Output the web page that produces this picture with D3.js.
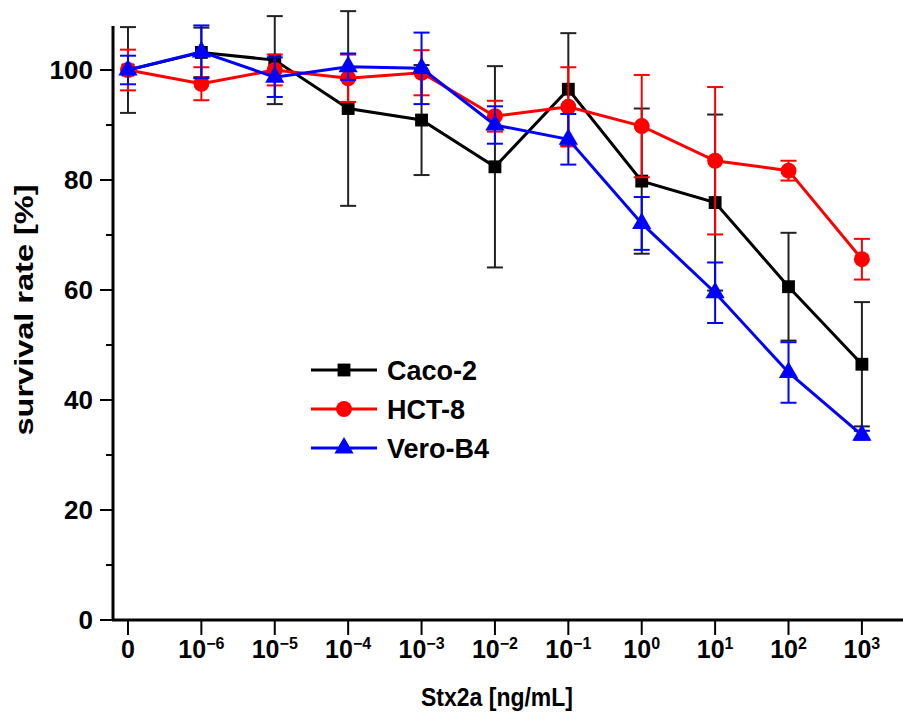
<!DOCTYPE html>
<html>
<head>
<meta charset="utf-8">
<script src="https://cdn.jsdelivr.net/npm/d3@7"></script>
<style>
  body { margin: 0; background: #fff; }
  svg text { font-family: "Liberation Sans", Arial, sans-serif; font-weight: bold; fill: #000; }
</style>
</head>
<body>
<div id="chart"></div>
<script>
// doses, shown as 0, 10^-6 ... 10^3
const doseLabels = ["0", "-6", "-5", "-4", "-3", "-2", "-1", "0", "1", "2", "3"];

const cacoMean = [100, 103.2, 101.8, 93.0, 90.9, 82.4, 96.5, 79.8, 75.9, 60.6, 46.5];
const cacoErr  = [7.8, 4.5, 8.0, 17.7, 10.0, 18.3, 10.2, 13.2, 16.0, 9.8, 11.3];

const hctMean = [100, 97.5, 100.0, 98.5, 99.5, 91.6, 93.3, 89.8, 83.5, 81.7, 65.6];
const hctErr  = [3.7, 3.0, 2.8, 4.3, 4.1, 2.8, 7.2, 9.3, 13.4, 1.8, 3.7];

const veroMean = [100, 103.3, 98.7, 100.6, 100.3, 90.0, 87.4, 72.1, 59.5, 45.0, 33.6];
const veroErr  = [2.6, 4.8, 3.6, 2.4, 6.5, 3.4, 4.6, 4.8, 5.5, 5.5, 0.8];

const yTicks = [0, 20, 40, 60, 80, 100];
const yMinorTicks = [10, 30, 50, 70, 90];

const series = [
  { name: "Caco-2", mean: cacoMean, err: cacoErr, color: "#000", errColor: "#222", symbol: d3.symbolSquare, size: 165 },
  { name: "HCT-8", mean: hctMean, err: hctErr, color: "#ff0000", errColor: "#ff0000", symbol: d3.symbolCircle, size: 200 },
  { name: "Vero-B4", mean: veroMean, err: veroErr, color: "#0000ff", errColor: "#0000ff", symbol: d3.symbolTriangle, size: 160 }
];

const W = 903, H = 713;
const svg = d3.select("#chart").append("svg")
  .attr("width", W).attr("height", H);

const x = d3.scaleLinear().domain([-0.204, 10.56]).range([113, 903]);
const y = d3.scaleLinear().domain([0, 108]).range([620, 26]);

// y axis
const yAxis = svg.append("g").attr("transform", "translate(113,0)");
yAxis.append("line").attr("x1", 0).attr("x2", 0).attr("y1", y(108)).attr("y2", y(0))
  .attr("stroke", "#000").attr("stroke-width", 3);
yAxis.selectAll(".ymaj").data(yTicks).enter().append("line")
  .attr("x1", -13).attr("x2", 0).attr("y1", d => y(d)).attr("y2", d => y(d))
  .attr("stroke", "#000").attr("stroke-width", 2);
yAxis.selectAll(".ymin").data(yMinorTicks).enter().append("line")
  .attr("x1", -7).attr("x2", 0).attr("y1", d => y(d)).attr("y2", d => y(d))
  .attr("stroke", "#000").attr("stroke-width", 2);
yAxis.selectAll(".ylab").data(yTicks).enter().append("text")
  .attr("x", -20).attr("y", d => y(d)).attr("dy", "0.36em")
  .attr("text-anchor", "end").style("font-size", "26px")
  .text(d => d);

// x axis
const xAxis = svg.append("g").attr("transform", "translate(0,620)");
xAxis.append("line").attr("x1", 112).attr("x2", 903).attr("y1", 0).attr("y2", 0)
  .attr("stroke", "#000").attr("stroke-width", 3);
xAxis.selectAll(".xt").data(doseLabels).enter().append("line")
  .attr("x1", (d, i) => x(i)).attr("x2", (d, i) => x(i))
  .attr("y1", 0).attr("y2", 15)
  .attr("stroke", "#000").attr("stroke-width", 2);
const xl = xAxis.selectAll(".xl").data(doseLabels).enter().append("text")
  .attr("y", 38).attr("text-anchor", "middle").style("font-size", "25px")
  .attr("x", (d, i) => x(i));
xl.each(function(d, i) {
  const t = d3.select(this);
  if (i === 0) { t.text("0"); return; }
  t.append("tspan").text("10");
  t.append("tspan").attr("dy", "-9").style("font-size", "16px")
    .text(d.replace("-", "\u2212"));
});

// axis titles
svg.append("text").attr("transform", "translate(497,706) scale(0.92,1)")
  .attr("text-anchor", "middle").style("font-size", "25px").text("Stx2a [ng/mL]");
svg.append("text").attr("transform", "translate(33,310) rotate(-90) scale(1.3,1)")
  .attr("text-anchor", "middle").style("font-size", "25px").text("survival rate [%]");

// series
const line = d3.line().x((d, i) => x(i)).y(d => y(d));

series.forEach(s => {
  const g = svg.append("g");
  const idx = d3.range(s.mean.length);
  // error bars
  const eb = g.selectAll(".eb").data(idx).enter().append("g")
    .attr("stroke", s.errColor).attr("stroke-width", 2);
  eb.append("line")
    .attr("x1", i => x(i)).attr("x2", i => x(i))
    .attr("y1", i => y(s.mean[i] + s.err[i])).attr("y2", i => y(s.mean[i] - s.err[i]));
  eb.append("line")
    .attr("x1", i => x(i) - 8).attr("x2", i => x(i) + 8)
    .attr("y1", i => y(s.mean[i] + s.err[i])).attr("y2", i => y(s.mean[i] + s.err[i]));
  eb.append("line")
    .attr("x1", i => x(i) - 8).attr("x2", i => x(i) + 8)
    .attr("y1", i => y(s.mean[i] - s.err[i])).attr("y2", i => y(s.mean[i] - s.err[i]));
  // line
  g.append("path").datum(s.mean).attr("d", line)
    .attr("fill", "none").attr("stroke", s.color).attr("stroke-width", 3);
  // markers
  g.selectAll(".pt").data(s.mean).enter().append("path")
    .attr("d", d3.symbol().type(s.symbol).size(s.size))
    .attr("transform", (d, i) => `translate(${x(i)},${y(d)})`)
    .attr("fill", s.color);
});

// legend
const legend = svg.append("g");
series.forEach((s, k) => {
  const ly = 370 + k * 39;
  legend.append("line").attr("x1", 311).attr("x2", 377).attr("y1", ly).attr("y2", ly)
    .attr("stroke", s.color).attr("stroke-width", 3);
  legend.append("path").attr("d", d3.symbol().type(s.symbol).size(s.size))
    .attr("transform", `translate(344,${ly})`).attr("fill", s.color);
  legend.append("text").attr("x", 387).attr("y", ly).attr("dy", "0.36em")
    .style("font-size", "27px").text(s.name);
});
</script>
</body>
</html>
